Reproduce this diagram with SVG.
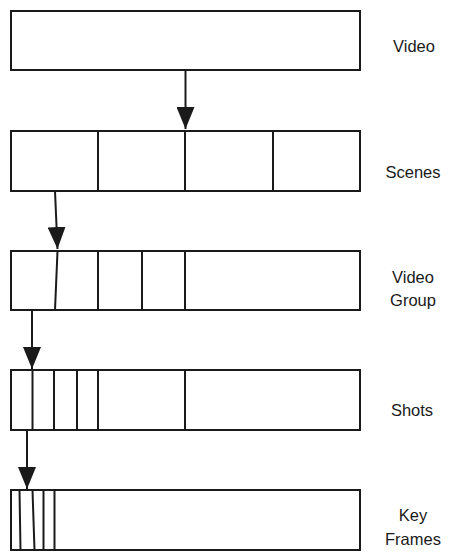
<svg xmlns="http://www.w3.org/2000/svg" width="465" height="554" viewBox="0 0 465 554">
  <style>
    .box { fill: #ffffff; stroke: #1a1a1a; stroke-width: 2; }
    .div { stroke: #1a1a1a; stroke-width: 2; fill: none; }
    .conn { stroke: #1a1a1a; stroke-width: 2; fill: none; marker-end: url(#head); }
    .lbl { font-family: "Liberation Sans", Arial, sans-serif; font-size: 16.5px; fill: #1a1a1a; text-anchor: middle; }
  </style>
  <defs>
    <marker id="head" viewBox="0 0 22 18" refX="22" refY="9" markerWidth="22" markerHeight="18" markerUnits="userSpaceOnUse" orient="auto">
      <path d="M0,0 L22,9 L0,18 Z" fill="#1a1a1a"/>
    </marker>
  </defs>

  <rect width="465" height="554" fill="#ffffff"/>

  <g id="video">
    <rect class="box" x="11" y="11" width="349" height="59"/>
    <text class="lbl" x="414" y="52">Video</text>
  </g>

  <g id="scenes">
    <rect class="box" x="11" y="131" width="349" height="60"/>
    <path class="div" d="M98,131 V191 M185,131 V191 M273,131 V191"/>
    <text class="lbl" x="413" y="178">Scenes</text>
  </g>

  <g id="video-group">
    <rect class="box" x="11" y="251" width="349" height="59"/>
    <path class="div" d="M57.5,251 L55,310 M98,251 V310 M142,251 V310 M185,251 V310"/>
    <text class="lbl" x="413" y="283">Video</text>
    <text class="lbl" x="413" y="306">Group</text>
  </g>

  <g id="shots">
    <rect class="box" x="11" y="370" width="349" height="60"/>
    <path class="div" d="M32.5,370 V430 M54,370 V430 M77,370 V430 M98,370 V430 M185,370 V430"/>
    <text class="lbl" x="412" y="416">Shots</text>
  </g>

  <g id="key-frames">
    <rect class="box" x="11" y="490" width="349" height="60"/>
    <path class="div" d="M19.5,490 L20.5,550 M32.5,490 L34.5,550 M43.5,490 V550 M54.5,490 V550"/>
    <text class="lbl" x="413" y="521">Key</text>
    <text class="lbl" x="413" y="545">Frames</text>
  </g>

  <g id="connectors">
    <path class="conn" d="M185.5,70 L185.5,129"/>
    <path class="conn" d="M55,191 L57.5,249"/>
    <path class="conn" d="M32,310 L32,369"/>
    <path class="conn" d="M27,430 L27,489"/>
  </g>
</svg>
